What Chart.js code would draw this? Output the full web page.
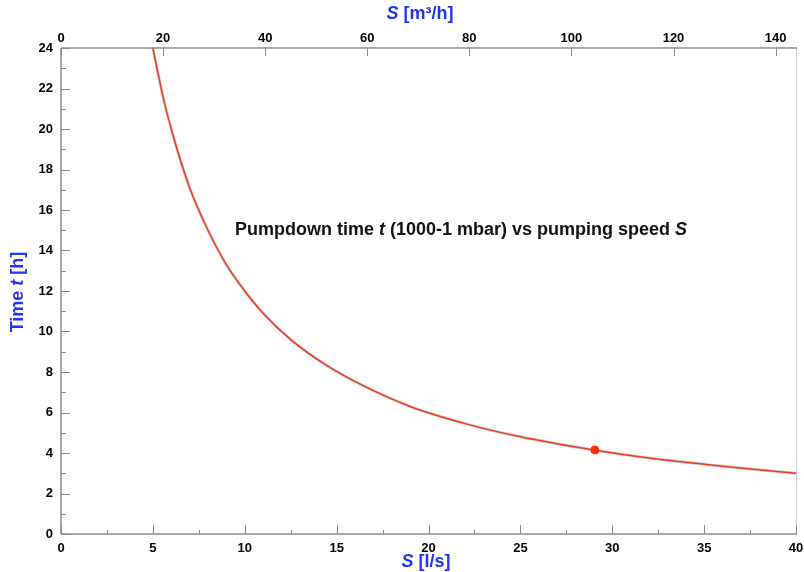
<!DOCTYPE html>
<html>
<head>
<meta charset="utf-8">
<script src="https://cdn.jsdelivr.net/npm/chart.js@4/dist/chart.umd.min.js"></script>
<style>
html,body{margin:0;padding:0;background:#fff;}
#wrap{width:804px;height:572px;position:relative;}
</style>
</head>
<body>
<div id="wrap"><canvas id="c"></canvas></div>
<script>
// Pumping speed S [l/s] and pumpdown time t [h]
const speedLs = [5, 5.5, 6, 7, 8, 9, 10, 11, 12.5, 14.5, 16.5, 19, 22, 25, 29, 32, 36, 40];
const timeH   = [24.0, 21.8, 20.0, 17.1, 15.0, 13.3, 12.0, 10.9, 9.6, 8.3, 7.3, 6.3, 5.45, 4.8, 4.15, 3.75, 3.35, 3.0];
// Highlighted operating point
const markS = [29.05];
const markT = [4.15];
// Axis ranges / tick steps
const xRange = [0, 40], xStep = 5, xMinor = 2.5;
const x2Range = [0, 144], x2Step = 20;
const yRange = [0, 24], yStep = 2, yMinor = 1;

const curve = speedLs.map((s, i) => ({x: s, y: timeH[i]}));
const mark = markS.map((s, i) => ({x: s, y: markT[i]}));

const FONT = '"Liberation Sans", Arial, sans-serif';
const BLUE = '#1f35f0';

function drawParts(ctx, parts, x, y, size, color) {
  let total = 0;
  parts.forEach(p => {
    ctx.font = (p.i ? 'italic ' : '') + 'bold ' + size + 'px ' + FONT;
    total += ctx.measureText(p.t).width;
  });
  let cx = x - total / 2;
  ctx.fillStyle = color;
  ctx.textBaseline = 'middle';
  ctx.textAlign = 'left';
  parts.forEach(p => {
    ctx.font = (p.i ? 'italic ' : '') + 'bold ' + size + 'px ' + FONT;
    ctx.fillText(p.t, cx, y);
    cx += ctx.measureText(p.t).width;
  });
}

const framePlugin = {
  id: 'frame',
  beforeDatasetsDraw(chart) {
    const {ctx, chartArea: a, scales} = chart;
    ctx.save();
    ctx.strokeStyle = '#d0d0d0';
    ctx.lineWidth = 1;
    ctx.beginPath();
    ctx.moveTo(a.right + 0.5, a.top); ctx.lineTo(a.right + 0.5, a.bottom);
    ctx.stroke();
    ctx.strokeStyle = '#8a8a8a';
    ctx.lineWidth = 1.5;
    ctx.beginPath();
    ctx.moveTo(a.left, a.top); ctx.lineTo(a.right + 1, a.top);
    ctx.moveTo(a.left, a.top); ctx.lineTo(a.left, a.bottom);
    ctx.moveTo(a.left, a.bottom); ctx.lineTo(a.right + 1, a.bottom);
    ctx.stroke();
    ctx.lineWidth = 1;
    ctx.beginPath();
    for (let v = yRange[0]; v <= yRange[1]; v += yMinor) {
      const py = Math.round(scales.y.getPixelForValue(v)) + 0.5;
      const len = (v % yStep === 0) ? 9 : 5;
      ctx.moveTo(a.left, py); ctx.lineTo(a.left + len, py);
    }
    for (let v = xRange[0]; v <= xRange[1]; v += xMinor) {
      const px = Math.round(scales.x.getPixelForValue(v)) + 0.5;
      const len = (v % xStep === 0) ? 9 : 4;
      ctx.moveTo(px, a.bottom); ctx.lineTo(px, a.bottom - len);
    }
    for (let v = x2Range[0]; v <= x2Range[1]; v += x2Step) {
      const px = Math.round(scales.x2.getPixelForValue(v)) + 0.5;
      ctx.moveTo(px, a.top); ctx.lineTo(px, a.top + 8);
    }
    ctx.stroke();
    ctx.restore();
  },
  afterDraw(chart) {
    const {ctx} = chart;
    ctx.save();
    drawParts(ctx, [{t: 'S', i: true}, {t: ' [l/s]'}], 426, 562, 18, BLUE);
    drawParts(ctx, [{t: 'S', i: true}, {t: ' [m³/h]'}], 420, 14, 18, BLUE);
    ctx.translate(18, 292);
    ctx.rotate(-Math.PI / 2);
    drawParts(ctx, [{t: 'Time '}, {t: 't', i: true}, {t: ' [h]'}], 0, 0, 18, BLUE);
    ctx.restore();
    ctx.save();
    drawParts(ctx, [{t: 'Pumpdown time '}, {t: 't', i: true}, {t: ' (1000-1 mbar) vs pumping speed '}, {t: 'S', i: true}], 461, 230, 18, '#111');
    ctx.restore();
  }
};

const tickFont = {family: FONT, size: 13, weight: 'bold'};
function noPad(s) { s.paddingLeft = 0; s.paddingRight = 0; }

new Chart(document.getElementById('c'), {
  type: 'scatter',
  data: {
    datasets: [
      {
        data: mark, xAxisID: 'x', yAxisID: 'y',
        pointRadius: 4, pointBackgroundColor: '#ff2a10', pointBorderColor: '#ff2a10',
        showLine: false, order: 0
      },
      {
        data: curve, xAxisID: 'x', yAxisID: 'y',
        showLine: true, borderColor: '#ee3a22', borderWidth: 1.5,
        pointRadius: 0, cubicInterpolationMode: 'monotone', order: 1
      },
      {
        data: curve, xAxisID: 'x', yAxisID: 'y',
        showLine: true, borderColor: 'rgba(140,140,140,0.4)', borderWidth: 3,
        pointRadius: 0, cubicInterpolationMode: 'monotone', order: 2
      }
    ]
  },
  options: {
    responsive: true,
    maintainAspectRatio: false,
    animation: false,
    layout: {padding: {left: 0, right: 8, top: 0, bottom: 0}},
    plugins: {legend: {display: false}, tooltip: {enabled: false}},
    scales: {
      x: {
        type: 'linear', position: 'bottom', min: xRange[0], max: xRange[1],
        grid: {display: false, drawTicks: false}, border: {display: false},
        ticks: {stepSize: xStep, color: '#000', font: tickFont, padding: 7, maxRotation: 0, autoSkip: false},
        afterFit(s) { s.height = 38; noPad(s); }
      },
      x2: {
        type: 'linear', position: 'top', min: x2Range[0], max: x2Range[1],
        grid: {display: false, drawTicks: false}, border: {display: false},
        ticks: {stepSize: x2Step, color: '#000', font: tickFont, padding: 2, maxRotation: 0, autoSkip: false,
          includeBounds: false},
        afterFit(s) { s.height = 48; noPad(s); }
      },
      y: {
        type: 'linear', position: 'left', min: yRange[0], max: yRange[1],
        grid: {display: false, drawTicks: false}, border: {display: false},
        ticks: {stepSize: yStep, color: '#000', font: tickFont, padding: 8, autoSkip: false},
        afterFit(s) { s.width = 61; s.paddingTop = 0; s.paddingBottom = 0; }
      }
    }
  },
  plugins: [framePlugin]
});
</script>
</body>
</html>
